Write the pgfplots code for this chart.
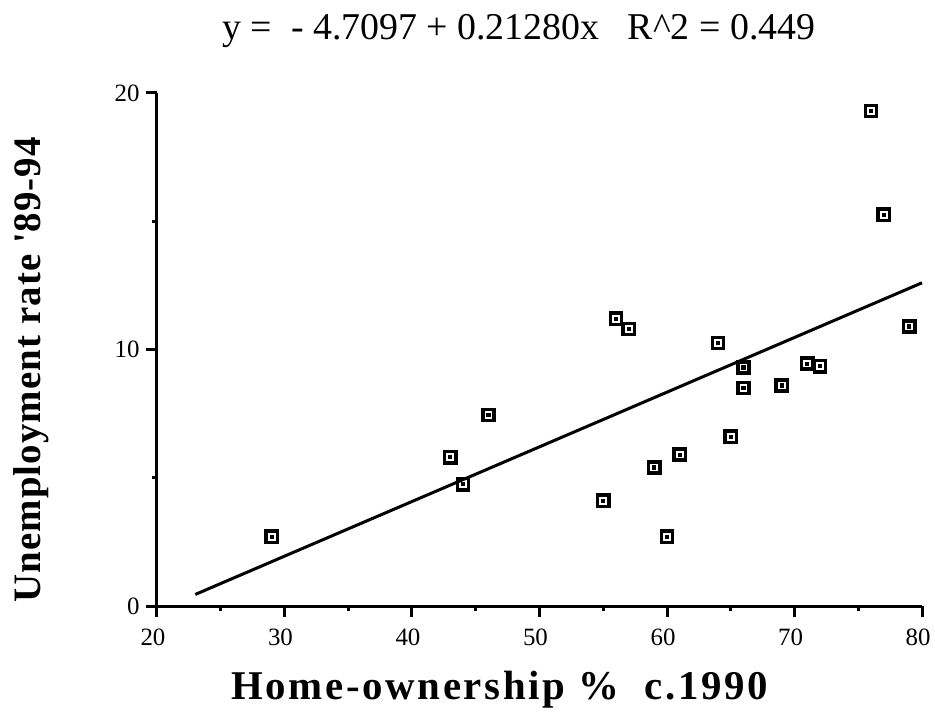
\documentclass[border=0pt]{standalone}
\usepackage{fontspec}
\setmainfont{Liberation Serif}
\newfontfamily\xlabfont[LetterSpace=6.5]{Liberation Serif}
\newfontfamily\ylabfont[LetterSpace=3]{Liberation Serif}
\usepackage{pgfplots}
\pgfplotsset{compat=1.18}
\pgfdeclareplotmark{sqdot}{%
  \pgfpathrectangle{\pgfpoint{-5.6bp}{-5.6bp}}{\pgfpoint{11.2bp}{11.2bp}}\pgfusepathqstroke
  \pgfpathrectangle{\pgfpoint{-2.1bp}{-2.1bp}}{\pgfpoint{4.2bp}{4.2bp}}\pgfusepathqfill}
\begin{document}
\begin{tikzpicture}
\useasboundingbox (-157bp,-109bp) rectangle (778bp,606bp);
\begin{axis}[
  at={(0,0)}, anchor=south west,
  width=765bp, height=513bp, scale only axis,
  xmin=20, xmax=80, ymin=0, ymax=20,
  xtick={20,30,...,80}, ytick={0,10,20},
  minor x tick num=1, minor y tick num=1,
  axis x line=bottom, axis y line=left,
  axis line style={-, line width=3bp},
  tick align=outside,
  major tick length=11bp, minor tick length=5bp,
  every tick/.style={black, line width=3bp},
  /pgf/number format/assume math mode=true,
  tick label style={font=\fontsize{25}{28}\selectfont},
  xticklabel style={yshift=-8bp, xshift=-4bp},
  yticklabel style={xshift=-3bp},
  title={y =\ \ - 4.7097 + 0.21280x\ \ \ R\textasciicircum 2 = 0.449},
  title style={at={(axis description cs:0.473,1.11)}, anchor=center, font=\fontsize{38}{44}\selectfont},
  xlabel={Home-ownership \%\ \ c.1990},
  xlabel style={at={(axis description cs:0.448,-0.164)}, anchor=center, font=\fontsize{41}{46}\xlabfont\bfseries},
  ylabel={Unemployment rate \textquotesingle 89-94},
  ylabel style={at={(axis description cs:-0.165,0.46)}, anchor=center, rotate=0, font=\fontsize{39}{44}\ylabfont\bfseries},
  clip=false,
]
\addplot[black, line width=3bp] coordinates {(23,0.45) (80,12.6)};
\addplot[only marks, mark=sqdot, mark options={line width=3.6bp, black}] coordinates {
(29,2.7) (43,5.8) (44,4.75) (46,7.45) (55,4.1) (56,11.2) (57,10.8) (59,5.4) (60,2.7) (61,5.9)
(64,10.25) (65,6.6) (66,9.3) (66,8.5) (69,8.6) (71,9.45) (72,9.35) (76,19.3) (77,15.25) (79,10.9)
};
\end{axis}
\end{tikzpicture}
\end{document}
